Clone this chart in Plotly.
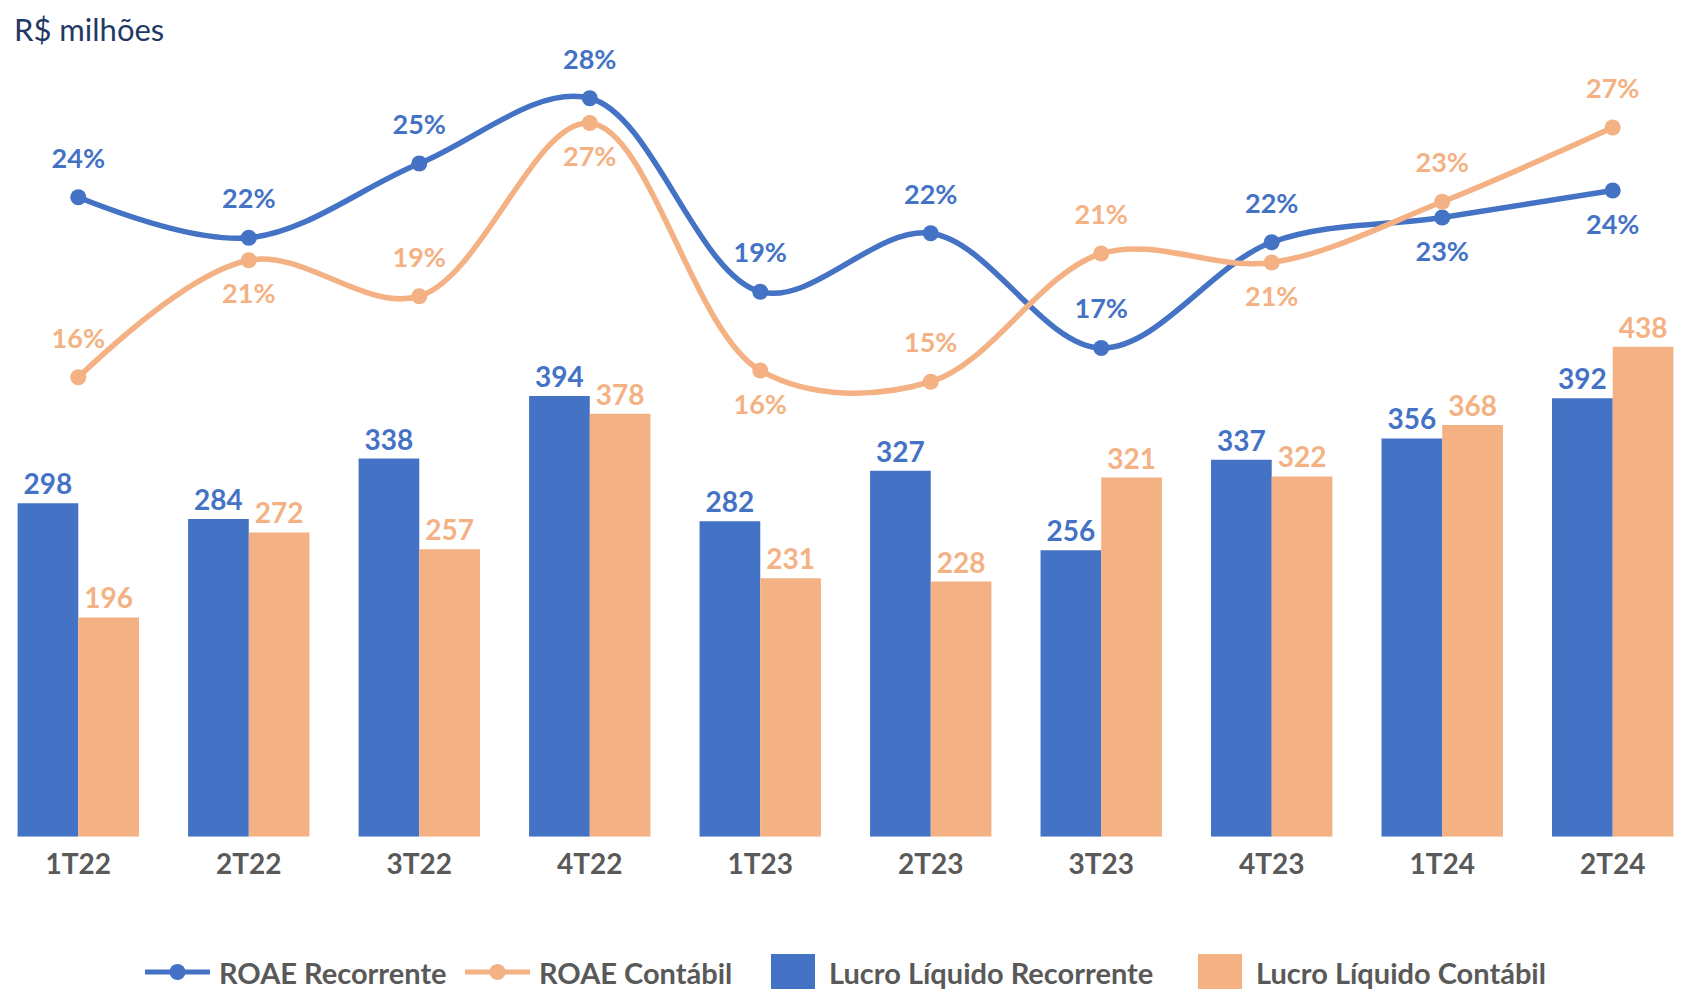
import plotly.graph_objects as go

# data
trimestres = ["1T22", "2T22", "3T22", "4T22", "1T23", "2T23", "3T23", "4T23", "1T24", "2T24"]
lucro_recorrente = [298, 284, 338, 394, 282, 327, 256, 337, 356, 392]
lucro_contabil = [196, 272, 257, 378, 231, 228, 321, 322, 368, 438]
roae_recorrente = [0.236, 0.218, 0.251, 0.280, 0.194, 0.220, 0.169, 0.216, 0.227, 0.239]
roae_contabil = [0.156, 0.208, 0.192, 0.269, 0.159, 0.154, 0.211, 0.207, 0.234, 0.267]

# label placement for the line series
pos_recorrente = ["top center"] * 8 + ["bottom center"] * 2
pos_contabil = ["top center", "bottom center", "top center", "bottom center", "bottom center",
                "top center", "top center", "bottom center", "top center", "top center"]

AZUL = "#4472C4"
LARANJA = "#F4B183"
CINZA = "#595959"
FONTE = "Lato"

# the page body has an 8px margin, so the figure is shifted by that much
OFF = 8
W, H = 1689 - OFF, 994 - OFF


def px(x):
    return (x - OFF) / W


def py(y):
    return 1 - (y - OFF) / H


fig = go.Figure()

# bars
for valores, cor, nome in [(lucro_recorrente, AZUL, "Lucro Líquido Recorrente"),
                           (lucro_contabil, LARANJA, "Lucro Líquido Contábil")]:
    fig.add_trace(go.Bar(
        x=trimestres, y=valores, name=nome,
        marker=dict(color=cor, line=dict(width=0)),
        texttemplate="%{y}", textposition="outside",
        textfont=dict(family=FONTE, size=28, color=cor, weight="bold"),
        cliponaxis=False, showlegend=False,
    ))

# ROAE lines (secondary axis)
for valores, cor, nome, pos in [(roae_recorrente, AZUL, "ROAE Recorrente", pos_recorrente),
                                (roae_contabil, LARANJA, "ROAE Contábil", pos_contabil)]:
    fig.add_trace(go.Scatter(
        x=trimestres, y=valores, name=nome, yaxis="y2",
        mode="lines+markers", line=dict(color=cor, width=5.5, shape="spline", smoothing=1),
        marker=dict(size=16, color=cor),
        cliponaxis=False, showlegend=False,
    ))
    # labels, pushed away from the points by a bigger invisible marker
    fig.add_trace(go.Scatter(
        x=trimestres, y=valores, yaxis="y2", mode="markers+text",
        marker=dict(size=35, opacity=0),
        texttemplate="%{y:.0%}", textposition=pos,
        textfont=dict(family=FONTE, size=27, color=cor, weight="bold"),
        cliponaxis=False, showlegend=False, hoverinfo="skip",
    ))

# plot area: bottom of bars at 836.7px (reference coords)
base = 836.7 - OFF
fig.update_layout(
    width=W, height=H,
    margin=dict(l=0, r=0, t=0, b=0),
    paper_bgcolor="white", plot_bgcolor="white",
    barmode="group", bargap=0.288, bargroupgap=0,
    xaxis=dict(
        range=[-(78.3 - OFF) / 170.49, 9 + (W - (1612.7 - OFF)) / 170.49],
        showgrid=False, zeroline=False, showline=False,
        ticks="", ticklabelstandoff=8,
        tickfont=dict(family=FONTE, size=28, color=CINZA, weight="bold"),
    ),
    yaxis=dict(
        domain=[1 - base / H, 1], range=[0, base / 1.1188],
        visible=False, showgrid=False, zeroline=False,
    ),
    yaxis2=dict(
        overlaying="y", range=[-(base - (728.25 - OFF)) / 2250, (728.25 - OFF) / 2250],
        visible=False, showgrid=False, zeroline=False,
    ),
    showlegend=False,
)

# title
fig.add_annotation(
    text="R$ milhões", xref="paper", yref="paper", x=px(12), y=1,
    xanchor="left", yanchor="top", showarrow=False,
    font=dict(family=FONTE, size=31, color="#1F3864"),
)

# custom legend at bottom
leg_y = 972
leg_font = dict(family=FONTE, size=29, color=CINZA, weight="bold")
for x0, x1, cor, nome in [(145, 210, AZUL, "ROAE Recorrente"), (465, 530, LARANJA, "ROAE Contábil")]:
    fig.add_shape(type="line", xref="paper", yref="paper",
                  x0=px(x0), x1=px(x1), y0=py(leg_y), y1=py(leg_y),
                  line=dict(color=cor, width=5))
    cx = (x0 + x1) / 2
    fig.add_shape(type="circle", xref="paper", yref="paper",
                  x0=px(cx - 8), x1=px(cx + 8), y0=py(leg_y + 8), y1=py(leg_y - 8),
                  fillcolor=cor, line=dict(width=0))
    fig.add_annotation(text=nome, xref="paper", yref="paper", x=px(x1 + 7), y=py(leg_y),
                       xanchor="left", yanchor="middle", showarrow=False, font=leg_font)
for x0, cor, nome in [(771, AZUL, "Lucro Líquido Recorrente"), (1198, LARANJA, "Lucro Líquido Contábil")]:
    fig.add_shape(type="rect", xref="paper", yref="paper",
                  x0=px(x0), x1=px(x0 + 44), y0=py(989), y1=py(954),
                  fillcolor=cor, line=dict(width=0))
    fig.add_annotation(text=nome, xref="paper", yref="paper", x=px(x0 + 56), y=py(leg_y),
                       xanchor="left", yanchor="middle", showarrow=False, font=leg_font)

fig.write_html("out.html")
